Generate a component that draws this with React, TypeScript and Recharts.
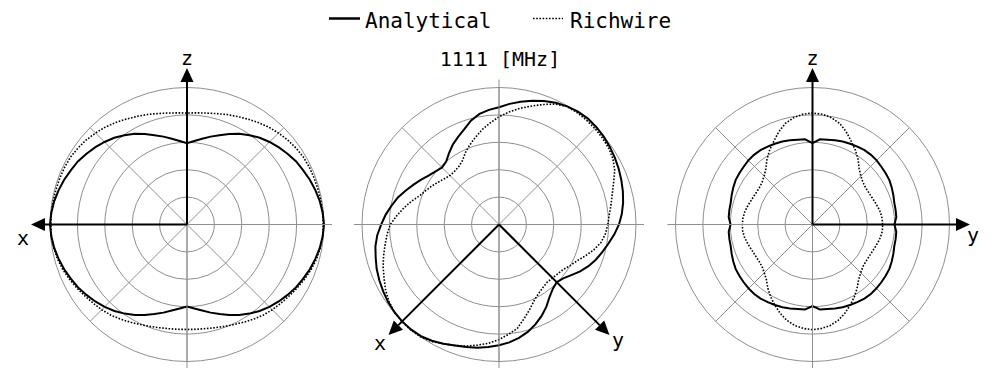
import { RadarChart, PolarGrid, PolarAngleAxis, PolarRadiusAxis, Radar } from "recharts"

const W = 993
const H = 368
const CY = 224.5
const R = 137
const FONT = "'DejaVu Sans Mono', 'Liberation Mono', monospace"

// pattern angle in degrees, counter-clockwise from screen right
const ANGLES = [
  0, 5, 10, 15, 20, 25, 30, 35, 40, 45, 50, 55, 60, 65, 70, 75, 80, 85,
  90, 95, 100, 105, 110, 115, 120, 125, 130, 135, 140, 145, 150, 155, 160, 165, 170, 175,
  180, 185, 190, 195, 200, 205, 210, 215, 220, 225, 230, 235, 240, 245, 250, 255, 260, 265,
  270, 275, 280, 285, 290, 295, 300, 305, 310, 315, 320, 325, 330, 335, 340, 345, 350, 355,
]
const GRID_ANGLES = [0, 45, 90, 135, 180, 225, 270, 315]
const RING_TICKS = [0, 1, 2, 3, 4, 5]

// xz plane (left)
const XZ_ANALYTICAL = [
  5.0, 4.97, 4.92, 4.85, 4.77, 4.68, 4.6, 4.49, 4.38, 4.26, 4.13, 3.98, 3.82, 3.64, 3.47, 3.32, 3.18, 3.06,
  2.97, 3.06, 3.18, 3.32, 3.47, 3.64, 3.82, 3.98, 4.13, 4.26, 4.38, 4.49, 4.6, 4.68, 4.77, 4.85, 4.92, 4.97,
  5.0, 4.97, 4.92, 4.85, 4.77, 4.68, 4.59, 4.48, 4.37, 4.25, 4.12, 3.97, 3.81, 3.64, 3.48, 3.33, 3.19, 3.08,
  2.99, 3.08, 3.19, 3.33, 3.48, 3.64, 3.81, 3.97, 4.12, 4.25, 4.37, 4.48, 4.59, 4.68, 4.77, 4.85, 4.92, 4.97,
]
const XZ_RICHWIRE = [
  4.97, 4.97, 4.96, 4.95, 4.94, 4.93, 4.91, 4.86, 4.8, 4.72, 4.64, 4.54, 4.44, 4.35, 4.27, 4.19, 4.13, 4.09,
  4.07, 4.09, 4.13, 4.19, 4.27, 4.35, 4.44, 4.54, 4.64, 4.72, 4.8, 4.86, 4.91, 4.93, 4.94, 4.95, 4.96, 4.97,
  4.97, 4.97, 4.94, 4.89, 4.82, 4.73, 4.64, 4.55, 4.47, 4.4, 4.32, 4.22, 4.12, 4.03, 3.96, 3.9, 3.86, 3.84,
  3.83, 3.84, 3.86, 3.9, 3.96, 4.03, 4.12, 4.22, 4.32, 4.4, 4.47, 4.55, 4.64, 4.73, 4.82, 4.89, 4.94, 4.97,
]

// xy plane (middle)
const XY_ANALYTICAL = [
  4.38, 4.5, 4.6, 4.68, 4.75, 4.82, 4.88, 4.94, 4.99, 5.03, 5.05, 5.03, 4.98, 4.9, 4.8, 4.68, 4.55, 4.42,
  4.28, 4.2, 4.1, 3.93, 3.7, 3.53, 3.37, 3.18, 3.0, 2.94, 3.02, 3.12, 3.28, 3.44, 3.62, 3.82, 3.98, 4.15,
  4.3, 4.46, 4.58, 4.66, 4.75, 4.82, 4.88, 4.94, 4.98, 5.0, 5.0, 4.97, 4.9, 4.8, 4.7, 4.63, 4.57, 4.49,
  4.41, 4.32, 4.2, 4.06, 3.88, 3.68, 3.46, 3.22, 3.06, 2.98, 3.06, 3.22, 3.42, 3.6, 3.76, 3.9, 4.05, 4.22,
]
const XY_RICHWIRE = [
  3.97, 4.04, 4.15, 4.28, 4.45, 4.66, 4.8, 4.88, 4.92, 4.95, 4.97, 4.98, 4.97, 4.85, 4.66, 4.47, 4.3, 4.12,
  3.93, 3.72, 3.52, 3.3, 3.1, 2.9, 2.68, 2.57, 2.53, 2.53, 2.6, 2.7, 2.82, 2.94, 3.08, 3.3, 3.52, 3.74,
  3.97, 4.1, 4.22, 4.36, 4.5, 4.63, 4.78, 4.9, 4.98, 5.01, 5.02, 5.0, 4.93, 4.8, 4.7, 4.59, 4.47, 4.35,
  4.2, 4.02, 3.85, 3.55, 3.29, 3.05, 2.9, 2.8, 2.74, 2.76, 2.8, 2.86, 3.0, 3.14, 3.35, 3.58, 3.78, 3.9,
]

// yz plane (right)
const YZ_ANALYTICAL = [
  2.99, 3.07, 3.08, 3.09, 3.14, 3.19, 3.24, 3.26, 3.28, 3.31, 3.32, 3.31, 3.28, 3.25, 3.22, 3.18, 3.14, 3.12,
  2.97, 3.12, 3.14, 3.18, 3.22, 3.25, 3.28, 3.31, 3.32, 3.31, 3.28, 3.26, 3.24, 3.19, 3.14, 3.09, 3.08, 3.07,
  2.99, 3.07, 3.08, 3.09, 3.14, 3.19, 3.24, 3.26, 3.28, 3.3, 3.31, 3.3, 3.27, 3.24, 3.21, 3.17, 3.13, 3.11,
  2.98, 3.11, 3.13, 3.17, 3.21, 3.24, 3.27, 3.3, 3.31, 3.3, 3.28, 3.26, 3.24, 3.19, 3.14, 3.09, 3.08, 3.07,
]
const YZ_RICHWIRE = [
  2.56, 2.55, 2.52, 2.47, 2.42, 2.38, 2.36, 2.36, 2.4, 2.5, 2.65, 2.9, 3.13, 3.35, 3.6, 3.82, 3.96, 4.04,
  4.07, 4.04, 3.96, 3.82, 3.6, 3.35, 3.13, 2.9, 2.65, 2.5, 2.4, 2.36, 2.36, 2.38, 2.42, 2.47, 2.52, 2.55,
  2.56, 2.56, 2.53, 2.48, 2.43, 2.39, 2.37, 2.37, 2.4, 2.49, 2.62, 2.84, 3.05, 3.25, 3.45, 3.62, 3.74, 3.81,
  3.84, 3.81, 3.74, 3.62, 3.45, 3.25, 3.05, 2.84, 2.62, 2.49, 2.4, 2.37, 2.37, 2.39, 2.43, 2.48, 2.53, 2.56,
]

function rows(analytical: number[], richwire: number[]) {
  return ANGLES.map((angle, i) => ({ angle, analytical: analytical[i], richwire: richwire[i] }))
}

function PolarPlot({ cx, data }: { cx: number; data: ReturnType<typeof rows> }) {
  return (
    <div style={{ position: "absolute", left: 0, top: 0 }}>
      <RadarChart
        width={W}
        height={H}
        cx={cx}
        cy={CY}
        innerRadius={0}
        outerRadius={R}
        startAngle={0}
        endAngle={360}
        data={data}
        margin={{ top: 0, right: 0, bottom: 0, left: 0 }}
      >
        <PolarGrid gridType="circle" stroke="#8f8f8f" strokeWidth={1} />
        <PolarAngleAxis
          type="number"
          dataKey="angle"
          domain={[0, 360]}
          ticks={GRID_ANGLES}
          allowDataOverflow
          tick={false}
          tickLine={false}
          axisLine={false}
        />
        <PolarRadiusAxis
          type="number"
          domain={[0, 5]}
          ticks={RING_TICKS}
          tickCount={6}
          allowDataOverflow
          tick={false}
          axisLine={false}
        />
        <Radar
          dataKey="richwire"
          stroke="#000"
          strokeWidth={1.6}
          strokeDasharray="1.6 1.6"
          fill="none"
          dot={false}
          isAnimationActive={false}
        />
        <Radar
          dataKey="analytical"
          stroke="#000"
          strokeWidth={2}
          fill="none"
          dot={false}
          isAnimationActive={false}
        />
      </RadarChart>
    </div>
  )
}

// black axis with a filled arrow head
function Arrow({ x1, y1, x2, y2 }: { x1: number; y1: number; x2: number; y2: number }) {
  const len = Math.hypot(x2 - x1, y2 - y1)
  const ux = (x2 - x1) / len
  const uy = (y2 - y1) / len
  const head = 14
  const half = 6.5
  const bx = x2 - ux * head
  const by = y2 - uy * head
  return (
    <g>
      <line x1={x1} y1={y1} x2={bx} y2={by} stroke="#000" strokeWidth={2} />
      <polygon
        points={`${x2},${y2} ${bx - uy * half},${by + ux * half} ${bx + uy * half},${by - ux * half}`}
        fill="#000"
      />
    </g>
  )
}

function GrayLine({ x1, y1, x2, y2 }: { x1: number; y1: number; x2: number; y2: number }) {
  return <line x1={x1} y1={y1} x2={x2} y2={y2} stroke="#8f8f8f" strokeWidth={1} />
}

const LEFT_CX = 187
const MID_CX = 499
const RIGHT_CX = 812.5
const EXT = 145

export default function App() {
  const diag = 110.5
  return (
    <div style={{ position: "absolute", left: 0, top: 0, width: W, height: H, background: "#fff", overflow: "hidden" }}>
      <PolarPlot cx={LEFT_CX} data={rows(XZ_ANALYTICAL, XZ_RICHWIRE)} />
      <PolarPlot cx={MID_CX} data={rows(XY_ANALYTICAL, XY_RICHWIRE)} />
      <PolarPlot cx={RIGHT_CX} data={rows(YZ_ANALYTICAL, YZ_RICHWIRE)} />

      <svg width={W} height={H} style={{ position: "absolute", left: 0, top: 0 }} fontFamily={FONT}>
        {/* left: xz */}
        <GrayLine x1={LEFT_CX} y1={CY} x2={LEFT_CX + EXT} y2={CY} />
        <GrayLine x1={LEFT_CX} y1={CY} x2={LEFT_CX} y2={H} />
        <Arrow x1={LEFT_CX} y1={CY} x2={31} y2={CY} />
        <Arrow x1={LEFT_CX} y1={CY} x2={LEFT_CX} y2={68} />
        <text x={LEFT_CX} y={65} fontSize={20} textAnchor="middle">z</text>
        <text x={23} y={245} fontSize={20} textAnchor="middle">x</text>

        {/* middle: xy */}
        <GrayLine x1={MID_CX - EXT} y1={CY} x2={MID_CX + EXT} y2={CY} />
        <GrayLine x1={MID_CX} y1={CY - EXT} x2={MID_CX} y2={H} />
        <Arrow x1={MID_CX} y1={CY} x2={MID_CX - diag} y2={CY + diag} />
        <Arrow x1={MID_CX} y1={CY} x2={MID_CX + diag} y2={CY + diag} />
        <text x={380} y={350} fontSize={20} textAnchor="middle">x</text>
        <text x={618} y={347} fontSize={20} textAnchor="middle">y</text>

        {/* right: yz */}
        <GrayLine x1={RIGHT_CX - EXT} y1={CY} x2={RIGHT_CX} y2={CY} />
        <GrayLine x1={RIGHT_CX} y1={CY} x2={RIGHT_CX} y2={H} />
        <Arrow x1={RIGHT_CX} y1={CY} x2={970} y2={CY} />
        <Arrow x1={RIGHT_CX} y1={CY} x2={RIGHT_CX} y2={68} />
        <text x={RIGHT_CX} y={65} fontSize={20} textAnchor="middle">z</text>
        <text x={973} y={242} fontSize={20} textAnchor="middle">y</text>

        {/* title and legend */}
        <text x={500} y={66} fontSize={20} textAnchor="middle">1111 [MHz]</text>
        <line x1={329} y1={18.5} x2={360} y2={18.5} stroke="#000" strokeWidth={2.5} />
        <text x={365} y={28} fontSize={21}>Analytical</text>
        <line x1={533} y1={18.5} x2={563} y2={18.5} stroke="#000" strokeWidth={1.6} strokeDasharray="1.6 1.6" />
        <text x={570} y={28} fontSize={21}>Richwire</text>
      </svg>
    </div>
  )
}
